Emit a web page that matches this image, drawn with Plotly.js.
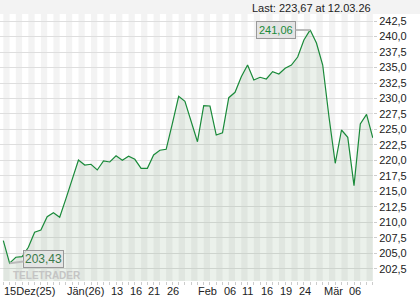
<!DOCTYPE html>
<html><head><meta charset="utf-8">
<script src="https://cdn.plot.ly/plotly-3.0.1.min.js"></script>
<style>html,body{margin:0;padding:0;background:#fff}#chart{width:420px;height:300px}</style>
</head><body><div id="chart"></div>
<script>
const dates = [
 '2025-12-15','2025-12-16','2025-12-17','2025-12-18','2025-12-19','2025-12-22','2025-12-23','2025-12-29','2025-12-30','2025-12-31',
 '2026-01-02','2026-01-05','2026-01-06','2026-01-07','2026-01-08','2026-01-09','2026-01-12','2026-01-13','2026-01-14','2026-01-15',
 '2026-01-16','2026-01-19','2026-01-20','2026-01-21','2026-01-22','2026-01-23','2026-01-26','2026-01-27','2026-01-28','2026-01-29',
 '2026-01-30','2026-02-02','2026-02-03','2026-02-04','2026-02-05','2026-02-06','2026-02-09','2026-02-10','2026-02-11','2026-02-12',
 '2026-02-13','2026-02-16','2026-02-17','2026-02-18','2026-02-19','2026-02-20','2026-02-23','2026-02-24','2026-02-25','2026-02-26',
 '2026-02-27','2026-03-02','2026-03-03','2026-03-04','2026-03-05','2026-03-06','2026-03-09','2026-03-10','2026-03-11','2026-03-12'
];
const prices = [
 207.06,203.43,204.39,204.48,206.00,208.42,208.79,210.94,211.58,210.84,
 213.84,216.84,220.08,219.27,219.39,218.47,219.92,219.76,220.77,220.03,
 220.68,220.19,218.74,218.74,220.89,221.65,221.81,226.00,230.35,229.55,
 226.30,223.03,228.84,228.79,224.11,224.48,230.13,231.00,233.52,235.40,
 232.98,233.42,233.15,234.32,233.95,234.87,235.40,236.69,239.44,241.06,
 238.95,235.40,227.06,219.55,224.92,223.74,215.94,225.89,227.45,223.67
];
const tickDates = ['2025-12-15','2026-01-02','2026-01-13','2026-01-16','2026-01-21','2026-01-26','2026-02-02','2026-02-06','2026-02-11','2026-02-16','2026-02-19','2026-02-24','2026-03-02','2026-03-06'];
const tickLabels = ['15Dez(25)','Jän(26)','13','16','21','26','Feb','06','11','16','19','24','Mär','06'];
const yTicks = [202.5,205,207.5,210,212.5,215,217.5,220,222.5,225,227.5,230,232.5,235,237.5,240,242.5];

const fmt = v => v.toFixed(2).replace('.', ',');
const xs = dates.map((d,i)=>i);
const GREEN = '#1a8a3a';
const FONT = 'Liberation Sans, Arial, sans-serif';

let maxI = 0, minI = 0;
prices.forEach((v,i)=>{ if(v>prices[maxI]) maxI=i; if(v<prices[minI]) minI=i; });
const lastI = prices.length-1;
const ld = dates[lastI].split('-');
const lastText = 'Last: ' + fmt(prices[lastI]) + ' at ' + ld[2] + '.' + ld[1] + '.' + ld[0].slice(2);

const shapes = [{type:'rect', xref:'paper', yref:'paper', x0:-0.01, x1:1.2, y0:1.0, y1:1.1, fillcolor:'#f3f3f3', line:{width:0}, layer:'below'}];
for (let i=0;i<xs.length-1;i+=2){
  shapes.push({type:'rect', xref:'x', yref:'paper', x0:xs[i], x1:xs[i+1], y0:0, y1:1, fillcolor:'#f3f3f3', line:{width:0}, layer:'below'});
}

const annotations = tickDates.map((d,k)=>({
  x: dates.indexOf(d), xref:'x', y:0, yref:'paper', yanchor:'top', xanchor:'left', yshift:-3,
  text: tickLabels[k], showarrow:false, borderpad:0, font:{family:FONT, size:11, color:'#222'}
}));
annotations.push({x:1, xref:'paper', y:1.0225, yref:'paper', xanchor:'right', yanchor:'middle', text:lastText, showarrow:false, font:{family:FONT, size:11, color:'#222'}});
annotations.push({x:xs[maxI], y:prices[maxI], xref:'x', yref:'y', text:fmt(prices[maxI]), showarrow:true, arrowhead:0, arrowwidth:2, arrowcolor:'#bbb', ax:-34, ay:0, standoff:0,
  bgcolor:'#e4e4e4', bordercolor:'#999', borderwidth:1, borderpad:2, font:{family:FONT, size:11, color:GREEN}});
annotations.push({x:12/373, xref:'paper', y:0.02, yref:'paper', xanchor:'left', yanchor:'middle', text:'<b>TELETRADER</b>', showarrow:false, borderpad:0, font:{family:FONT, size:10, color:'#c4c4c4'}});
annotations.push({x:xs[minI], y:prices[minI], xref:'x', yref:'y', text:fmt(prices[minI]), showarrow:true, arrowhead:0, arrowwidth:2, arrowcolor:'#bbb', ax:34, ay:-4, standoff:0,
  bgcolor:'rgba(228,228,228,0.85)', bordercolor:'#999', borderwidth:1, borderpad:1, font:{family:FONT, size:12, color:'#3a7a4a'}});

const trace = {x:xs, y:prices, type:'scatter', mode:'lines', line:{color:GREEN, width:1.2}, fill:'tozeroy', fillcolor:'rgba(100,150,100,0.13)', hoverinfo:'skip'};

const layout = {
  width:420, height:300, margin:{l:0, r:47, t:14, b:19},
  paper_bgcolor:'#fff', plot_bgcolor:'#fff', showlegend:false, separators:',.',
  xaxis:{range:[-0.53, 59.03], tickvals:xs, showticklabels:false, ticks:'outside', ticklen:3, tickcolor:'#ccc', showgrid:false, zeroline:false, showline:false, fixedrange:true},
  yaxis:{range:[200.56, 243.63], side:'right', tickvals:yTicks, tickformat:'.1f', ticks:'outside', ticklen:3, tickcolor:'#ccc',
    gridcolor:'#dedede', gridwidth:1, zeroline:false, showline:false, tickfont:{family:FONT, size:11, color:'#222'}, fixedrange:true},
  shapes:shapes, annotations:annotations
};
Plotly.newPlot('chart', [trace], layout, {displayModeBar:false, staticPlot:true});
</script></body></html>
